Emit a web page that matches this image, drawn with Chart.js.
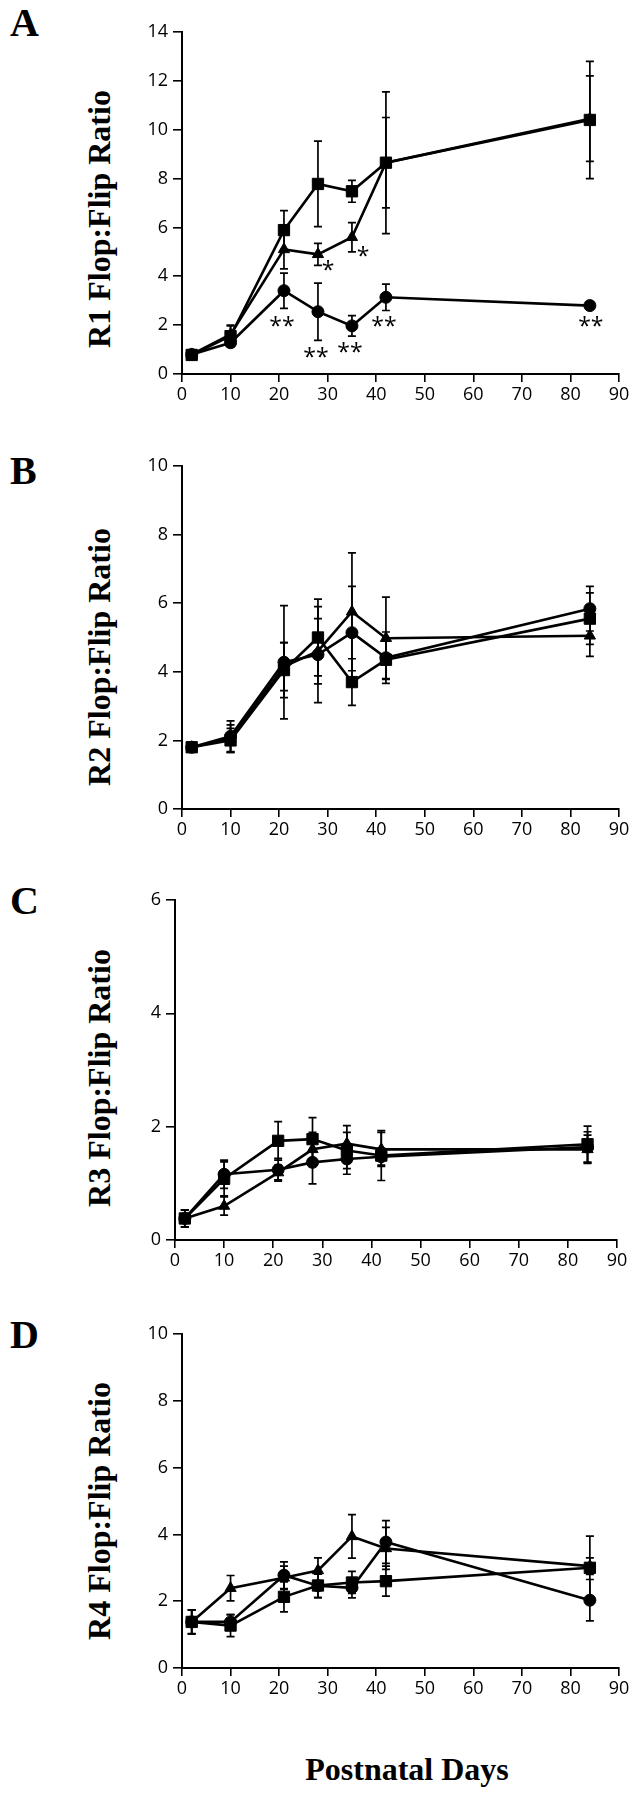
<!DOCTYPE html>
<html>
<head>
<meta charset="utf-8">
<script src="https://cdn.jsdelivr.net/npm/chart.js@4.4.0/dist/chart.umd.min.js"></script>
<style>
  body { margin: 0; background: #fff; width: 639px; height: 1800px; position: relative; overflow: hidden; }
  canvas { position: absolute; left: 0; }
  .letter { position: absolute; left: 10px; font: bold 40px 'Liberation Serif', serif; line-height: 40px; color: #000; }
  .ytitle { position: absolute; font: bold 32px 'Liberation Serif', serif; line-height: 32px; white-space: nowrap; color: #000;
            transform: translate(-50%, -50%) rotate(-90deg); }
  .xtitle { position: absolute; font: bold 32px 'Liberation Serif', serif; line-height: 32px; white-space: nowrap; color: #000;
            transform: translateX(-50%); }
</style>
</head>
<body>
<div class="letter" style="top:3px">A</div>
<div class="letter" style="top:451px">B</div>
<div class="letter" style="top:881px">C</div>
<div class="letter" style="top:1315px">D</div>

<div class="ytitle" style="left:99px;top:219px">R1 Flop:Flip Ratio</div>
<div class="ytitle" style="left:99px;top:657px">R2 Flop:Flip Ratio</div>
<div class="ytitle" style="left:99px;top:1078px">R3 Flop:Flip Ratio</div>
<div class="ytitle" style="left:99px;top:1511px">R4 Flop:Flip Ratio</div>

<div class="xtitle" style="left:407px;top:1753px">Postnatal Days</div>

<canvas id="chartA"></canvas>
<canvas id="chartB"></canvas>
<canvas id="chartC"></canvas>
<canvas id="chartD"></canvas>

<script>
// Postnatal days sampled
const days = [2, 10, 21, 28, 35, 42, 84];
const xTicks = [0, 10, 20, 30, 40, 50, 60, 70, 80, 90];

// R1
const r1Circle = [0.8, 1.28, 3.41, 2.55, 1.97, 3.14, 2.8];
const r1CircleErr = [0.06, 0.1, 0.72, 1.17, 0.42, 0.54, 0.12];
const r1Square = [0.78, 1.55, 5.89, 7.78, 7.48, 8.65, 10.4];
const r1SquareErr = [0.08, 0.45, 0.8, 1.75, 0.45, 2.9, 2.4];
const r1Triangle = [0.8, 1.62, 5.1, 4.9, 5.6, 8.65, 10.45];
const r1TriangleErr = [0.06, 0.35, 0.8, 0.45, 0.6, 1.85, 1.75];
const r1Ticks = [0, 2, 4, 6, 8, 10, 12, 14];

// R2
const r2Circle = [1.8, 2.12, 4.28, 4.5, 5.14, 4.41, 5.84];
const r2CircleErr = [0.1, 0.45, 1.65, 1.4, 1.35, 0.75, 0.65];
const r2Square = [1.8, 2.0, 4.05, 5.0, 3.7, 4.35, 5.55];
const r2SquareErr = [0.1, 0.35, 0.8, 1.12, 0.68, 0.55, 0.75];
const r2Triangle = [1.8, 2.05, 4.15, 4.6, 5.75, 4.98, 5.05];
const r2TriangleErr = [0.1, 0.4, 0.7, 0.95, 1.72, 1.2, 0.6];
const r2Ticks = [0, 2, 4, 6, 8, 10];

// R3
const r3Circle = [0.38, 1.16, 1.24, 1.37, 1.43, 1.47, 1.64];
const r3CircleErr = [0.15, 0.25, 0.2, 0.38, 0.27, 0.15, 0.27];
const r3Square = [0.38, 1.08, 1.75, 1.78, 1.58, 1.49, 1.69];
const r3SquareErr = [0.15, 0.3, 0.34, 0.38, 0.32, 0.44, 0.32];
const r3Triangle = [0.38, 0.6, 1.19, 1.6, 1.7, 1.6, 1.6];
const r3TriangleErr = [0.15, 0.16, 0.13, 0.3, 0.32, 0.3, 0.25];
const r3Ticks = [0, 2, 4, 6];

// R4
const r4Circle = [1.38, 1.38, 2.78, 2.46, 2.4, 3.77, 2.03];
const r4CircleErr = [0.35, 0.22, 0.4, 0.35, 0.3, 0.64, 0.62];
const r4Square = [1.38, 1.27, 2.13, 2.47, 2.56, 2.6, 3.0];
const r4SquareErr = [0.36, 0.33, 0.45, 0.36, 0.33, 0.45, 0.95];
const r4Triangle = [1.38, 2.39, 2.7, 2.92, 3.94, 3.58, 3.05];
const r4TriangleErr = [0.36, 0.38, 0.35, 0.38, 0.65, 0.63, 0.25];
const r4Ticks = [0, 2, 4, 6, 8, 10];

// significance marks in panel A (day, ratio)
const r1Notes = [
  { x: 20.6, y: 2.13, text: '**' },
  { x: 27.6, y: 0.86, text: '**' },
  { x: 34.6, y: 1.06, text: '**' },
  { x: 41.6, y: 2.13, text: '**' },
  { x: 84.2, y: 2.09, text: '**' },
  { x: 30.1, y: 4.42, text: '*' },
  { x: 37.3, y: 4.99, text: '*' }
];

// vertical error bars, drawn under the markers
const errorBars = {
  id: 'errorBars',
  beforeDatasetsDraw(chart) {
    const { ctx, scales: { x, y } } = chart;
    ctx.save();
    ctx.strokeStyle = '#000';
    ctx.lineWidth = 1.7;
    chart.data.datasets.forEach(ds => {
      ds.data.forEach((p, i) => {
        const e = ds.errors[i];
        const px = x.getPixelForValue(p.x);
        const top = y.getPixelForValue(p.y + e);
        const bot = y.getPixelForValue(p.y - e);
        ctx.beginPath();
        ctx.moveTo(px, top); ctx.lineTo(px, bot);
        ctx.moveTo(px - 4, top); ctx.lineTo(px + 4, top);
        ctx.moveTo(px - 4, bot); ctx.lineTo(px + 4, bot);
        ctx.stroke();
      });
    });
    ctx.restore();
  }
};

const notesPlugin = {
  id: 'notes',
  afterDatasetsDraw(chart, args, opts) {
    if (!opts.items) return;
    const { ctx, scales: { x, y } } = chart;
    ctx.save();
    ctx.fillStyle = '#000';
    ctx.font = '23px "Open Sans"';
    ctx.textAlign = 'center';
    ctx.textBaseline = 'middle';
    opts.items.forEach(n => {
      ctx.fillText(n.text, x.getPixelForValue(n.x), y.getPixelForValue(n.y) + 5);
    });
    ctx.restore();
  }
};

function series(values, errors, style, radius) {
  return {
    data: days.map((d, i) => ({ x: d, y: values[i] })),
    errors: errors,
    pointStyle: style,
    pointRadius: radius,
    borderColor: '#000',
    backgroundColor: '#000',
    pointBackgroundColor: '#000',
    pointBorderColor: '#000',
    pointBorderWidth: 1,
    borderWidth: 2.6,
    tension: 0
  };
}

function makePanel(id, area, yTicks, datasets, notes) {
  const canvas = document.getElementById(id);
  const padTop = 30, xH = 46, padBottom = 8, yW = 70;
  canvas.width = 639;
  canvas.height = area.bottom - area.top + padTop + xH + padBottom;
  canvas.style.top = (area.top - padTop) + 'px';

  const axisFont = { family: 'Open Sans', size: 18 };
  new Chart(canvas, {
    type: 'line',
    data: { datasets: datasets },
    options: {
      responsive: false,
      animation: false,
      layout: { padding: { left: area.left - yW, right: 639 - area.right, top: padTop, bottom: padBottom } },
      plugins: {
        legend: { display: false },
        tooltip: { enabled: false },
        notes: { items: notes }
      },
      scales: {
        x: {
          type: 'linear',
          min: xTicks[0],
          max: xTicks[xTicks.length - 1],
          afterBuildTicks: s => { s.ticks = xTicks.map(v => ({ value: v })); },
          afterFit: s => { s.height = xH; },
          grid: { drawOnChartArea: false, tickLength: 8, color: '#000', lineWidth: 1.6 },
          border: { color: '#000', width: 2 },
          ticks: { color: '#000', font: axisFont, padding: 2, maxRotation: 0, autoSkip: false }
        },
        y: {
          type: 'linear',
          min: yTicks[0],
          max: yTicks[yTicks.length - 1],
          afterBuildTicks: s => { s.ticks = yTicks.map(v => ({ value: v })); },
          afterFit: s => { s.width = yW; },
          grid: { drawOnChartArea: false, tickLength: 9, color: '#000', lineWidth: 1.6 },
          border: { color: '#000', width: 2 },
          ticks: { color: '#000', font: axisFont, padding: 5, autoSkip: false }
        }
      }
    },
    plugins: [errorBars, notesPlugin]
  });
}

makePanel('chartA', { left: 182, right: 619, top: 32, bottom: 374 }, r1Ticks, [
  series(r1Circle, r1CircleErr, 'circle', 6),
  series(r1Square, r1SquareErr, 'rect', 8),
  series(r1Triangle, r1TriangleErr, 'triangle', 6.5)
], r1Notes);

makePanel('chartB', { left: 182, right: 619, top: 466, bottom: 809 }, r2Ticks, [
  series(r2Circle, r2CircleErr, 'circle', 6),
  series(r2Square, r2SquareErr, 'rect', 8),
  series(r2Triangle, r2TriangleErr, 'triangle', 6.5)
], []);

makePanel('chartC', { left: 175, right: 617, top: 900, bottom: 1240 }, r3Ticks, [
  series(r3Circle, r3CircleErr, 'circle', 6),
  series(r3Square, r3SquareErr, 'rect', 8),
  series(r3Triangle, r3TriangleErr, 'triangle', 6.5)
], []);

makePanel('chartD', { left: 182, right: 619, top: 1334, bottom: 1668 }, r4Ticks, [
  series(r4Circle, r4CircleErr, 'circle', 6),
  series(r4Square, r4SquareErr, 'rect', 8),
  series(r4Triangle, r4TriangleErr, 'triangle', 6.5)
], []);
</script>
</body>
</html>
